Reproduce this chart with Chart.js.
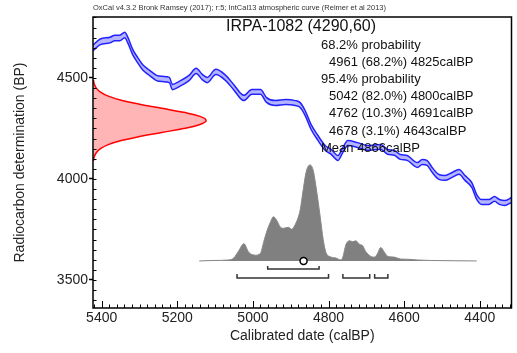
<!DOCTYPE html>
<html>
<head>
<meta charset="utf-8">
<script src="https://cdn.jsdelivr.net/npm/chart.js@4.4.1/dist/chart.umd.min.js"></script>
<style>
  html, body { margin: 0; padding: 0; background: #fff; }
</style>
</head>
<body>
<canvas id="calChart" width="517" height="353"></canvas>
<script>
// --- sample / text ---
const sampleName = 'IRPA-1082';
const sampleBP = 4290;
const sampleErr = 60;
const headerText = 'OxCal v4.3.2 Bronk Ramsey (2017); r:5; IntCal13 atmospheric curve (Reimer et al 2013)';
const resultLines = [
  '68.2% probability',
  '4961 (68.2%) 4825calBP',
  '95.4% probability',
  '5042 (82.0%) 4800calBP',
  '4762 (10.3%) 4691calBP',
  '4678 (3.1%) 4643calBP',
  'Mean 4866calBP'
];
const ranges68 = [[4961, 4825]];
const ranges95 = [[5042, 4800], [4762, 4691], [4678, 4643]];
const meanCal = 4866;

// tick labels
const xTicks = [5400, 5200, 5000, 4800, 4600, 4400];
const yTicks = [3500, 4000, 4500];

// --- calibration curve (IntCal13) ---
const curveCal = [5423, 5405, 5378, 5365, 5352, 5339, 5331, 5318, 5305, 5292, 5273, 5255, 5239, 5221,
  5213, 5195, 5169, 5150, 5134, 5121, 5098, 5072, 5051, 5024, 5003, 4980, 4964, 4940, 4914, 4888,
  4875, 4862, 4846, 4828, 4809, 4793, 4775, 4762, 4749, 4723, 4696, 4662, 4644, 4626, 4610, 4592,
  4565, 4552, 4539, 4526, 4508, 4492, 4473, 4455, 4439, 4421, 4408, 4395, 4376, 4361, 4348, 4334, 4316];
const curveBP = [4649, 4678, 4688, 4698, 4698, 4713, 4688, 4629, 4589, 4554, 4525, 4500, 4495, 4490,
  4455, 4470, 4500, 4535, 4505, 4490, 4530, 4500, 4455, 4401, 4431, 4431, 4391, 4376, 4381, 4376,
  4366, 4327, 4257, 4203, 4154, 4134, 4104, 4144, 4178, 4168, 4154, 4159, 4134, 4129, 4109, 4104,
  4069, 4084, 4079, 4045, 4010, 4005, 4020, 4035, 4005, 3970, 3911, 3886, 3886, 3901, 3886, 3881, 3896];
const curveErr = [14, 14, 14, 14, 14, 14, 14, 13, 13, 13, 13, 13, 13, 13,
  13, 13, 13, 13, 13, 13, 13, 13, 13, 13, 12, 12, 12, 12, 12, 12,
  12, 12, 12, 12, 12, 12, 12, 12, 12, 12, 12, 12, 12, 12, 12, 12,
  12, 12, 12, 12, 12, 12, 12, 12, 12, 12, 12, 12, 12, 12, 12, 12, 12];

// --- radiocarbon measurement distribution (relative) ---
const measBP = [4490, 4470, 4450, 4430, 4410, 4390, 4370, 4350, 4330, 4310, 4290,
  4270, 4250, 4230, 4210, 4190, 4170, 4150, 4130, 4110, 4090];
const measProb = [0.004, 0.011, 0.029, 0.066, 0.135, 0.249, 0.411, 0.607, 0.801, 0.946, 1,
  0.946, 0.801, 0.607, 0.411, 0.249, 0.135, 0.066, 0.029, 0.011, 0.004];

// --- calibrated date distribution (relative %, peak = 100) ---
const postCal = [5142, 5103, 5064, 5051, 5037, 5024, 5011, 4993, 4980, 4972, 4964, 4953, 4946, 4938,
  4927, 4919, 4906, 4898, 4888, 4875, 4867, 4859, 4849, 4841, 4833, 4822, 4814, 4807, 4793, 4780,
  4767, 4762, 4754, 4744, 4736, 4728, 4717, 4710, 4702, 4689, 4678, 4670, 4662, 4652, 4644, 4626,
  4610, 4592, 4565, 4531, 4408];
const postProb = [0, 0.5, 1, 3, 11, 18, 9, 6, 8, 19, 30, 41, 46, 43,
  35, 34, 35, 33, 38, 53, 74, 93, 100, 95, 77, 46, 22, 9, 4, 3,
  1, 4, 17, 21, 20, 21, 17, 16, 10, 5, 4, 8, 14, 9, 5, 4,
  2, 1.8, 1, 0.5, 0];

const FONT = "'Liberation Sans', Arial, sans-serif";
Chart.defaults.font.family = FONT;
Chart.defaults.color = '#222';

const toPts = (xs, ys) => xs.map((v, i) => ({ x: v, y: ys[i] }));

// ticks, frame, brackets and text
const oxcalDecor = {
  id: 'oxcalDecor',
  afterDatasetsDraw(chart) {
    const { ctx, chartArea: a, scales } = chart;
    const xs = scales.x, ys = scales.y, yp = scales.yp;
    ctx.save();

    // minor / major ticks inside the frame
    ctx.strokeStyle = '#000';
    ctx.lineWidth = 1;
    ctx.beginPath();
    for (let v = 4320; v <= 5420; v += 20) {
      const px = Math.round(xs.getPixelForValue(v)) + 0.5;
      const len = v % 200 === 0 ? 7 : 3.5;
      ctx.moveTo(px, a.bottom);
      ctx.lineTo(px, a.bottom - len);
    }
    for (let v = 3400; v <= 4800; v += 50) {
      const py = Math.round(ys.getPixelForValue(v)) + 0.5;
      ctx.moveTo(a.left, py);
      ctx.lineTo(a.left + 3.5, py);
    }
    ctx.stroke();

    // frame
    ctx.lineWidth = 1.5;
    ctx.strokeRect(a.left, a.top, a.right - a.left, a.bottom - a.top);

    // probability range brackets under the distribution
    const base = yp.getPixelForValue(0);
    ctx.strokeStyle = '#333';
    ctx.lineWidth = 1.5;
    const bracket = (r, off, h) => {
      const x1 = xs.getPixelForValue(r[0]), x2 = xs.getPixelForValue(r[1]);
      ctx.beginPath();
      ctx.moveTo(x1, base + off - h);
      ctx.lineTo(x1, base + off);
      ctx.lineTo(x2, base + off);
      ctx.lineTo(x2, base + off - h);
      ctx.stroke();
    };
    ranges68.forEach(r => bracket(r, 8, 3));
    ranges95.forEach(r => bracket(r, 17, 4));

    // header
    ctx.fillStyle = '#333';
    ctx.textBaseline = 'middle';
    ctx.textAlign = 'left';
    ctx.font = '7.5px ' + FONT;
    ctx.fillText(headerText, a.left, 8);

    // sample title
    ctx.fillStyle = '#111';
    ctx.font = '16px ' + FONT;
    ctx.textAlign = 'center';
    ctx.fillText(sampleName + ' (' + sampleBP + ',' + sampleErr + ')', 301, 27);

    // results
    ctx.font = '13px ' + FONT;
    ctx.textAlign = 'left';
    resultLines.forEach((t, i) => {
      const indent = /probability|Mean/.test(t) ? 321 : 329;
      ctx.fillText(t, indent, 45 + i * 17.2);
    });
    ctx.restore();
  }
};

new Chart(document.getElementById('calChart'), {
  type: 'line',
  data: {
    datasets: [
      {
        data: [{ x: meanCal, y: 0 }],
        xAxisID: 'x', yAxisID: 'yp',
        showLine: false,
        pointRadius: 3.5,
        pointBackgroundColor: '#fff',
        pointBorderColor: '#000',
        pointBorderWidth: 1.5,
        order: 0
      },
      {
        data: toPts(curveCal, curveBP.map((v, i) => v + curveErr[i])),
        xAxisID: 'x', yAxisID: 'y',
        borderColor: '#2222ff',
        borderWidth: 1.5,
        pointRadius: 0,
        cubicInterpolationMode: 'monotone',
        fill: false,
        order: 1
      },
      {
        data: toPts(curveCal, curveBP.map((v, i) => v - curveErr[i])),
        xAxisID: 'x', yAxisID: 'y',
        borderColor: '#2222ff',
        backgroundColor: 'rgba(90, 90, 255, 0.45)',
        borderWidth: 1.5,
        pointRadius: 0,
        cubicInterpolationMode: 'monotone',
        fill: '-1',
        order: 2
      },
      {
        data: toPts(postCal, postProb),
        xAxisID: 'x', yAxisID: 'yp',
        borderColor: '#888',
        backgroundColor: '#808080',
        borderWidth: 1,
        pointRadius: 0,
        cubicInterpolationMode: 'monotone',
        fill: 'origin',
        order: 3
      },
      {
        data: toPts(measProb, measBP),
        xAxisID: 'xr', yAxisID: 'y',
        borderColor: '#ff0000',
        backgroundColor: 'rgba(255, 90, 90, 0.45)',
        borderWidth: 1.5,
        pointRadius: 0,
        tension: 0.4,
        fill: 'shape',
        order: 4
      }
    ]
  },
  options: {
    responsive: false,
    animation: false,
    events: [],
    layout: { padding: { top: 17, right: 2, left: 0, bottom: 0 } },
    plugins: { legend: { display: false }, tooltip: { enabled: false } },
    scales: {
      x: {
        type: 'linear',
        reverse: true,
        min: 4316,
        max: 5423,
        afterBuildTicks: s => { s.ticks = xTicks.map(v => ({ value: v })); },
        ticks: {
          maxRotation: 0,
          autoSkip: false,
          padding: 2,
          font: { size: 14 },
          callback: v => String(v)
        },
        grid: { drawOnChartArea: false, drawTicks: false },
        border: { display: false },
        title: {
          display: true,
          text: 'Calibrated date (calBP)',
          font: { size: 14 },
          padding: { top: 4, bottom: 8 }
        },
        afterFit: s => { s.height = 45; }
      },
      y: {
        type: 'linear',
        min: 3361,
        max: 4802,
        afterBuildTicks: s => { s.ticks = yTicks.map(v => ({ value: v })); },
        ticks: {
          autoSkip: false,
          padding: 1,
          font: { size: 14 },
          callback: v => String(v)
        },
        grid: { drawOnChartArea: false, tickLength: 4, color: '#000', tickWidth: 1.5 },
        border: { display: false },
        title: {
          display: true,
          text: 'Radiocarbon determination (BP)',
          font: { size: 14 },
          padding: { top: 12, bottom: 0 }
        },
        afterFit: s => { s.width = 93; }
      },
      xr: { type: 'linear', min: 0, max: 3.7, display: false },
      yp: { type: 'linear', min: -49, max: 254, display: false }
    }
  },
  plugins: [oxcalDecor]
});
</script>
</body>
</html>
